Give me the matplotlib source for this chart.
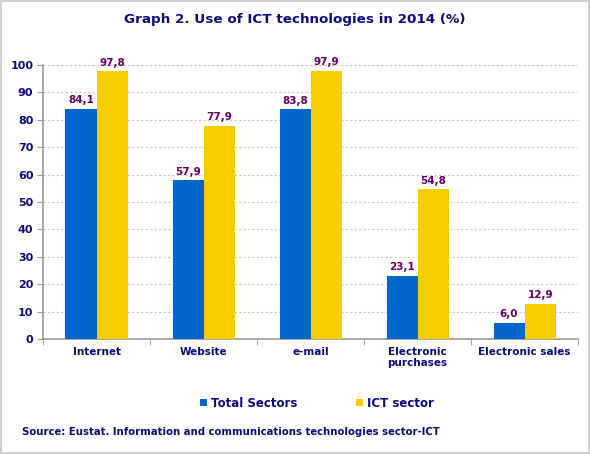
import matplotlib
matplotlib.use("Agg")
import matplotlib.pyplot as plt
import numpy as np
from matplotlib.patches import Rectangle

categories = ["Internet", "Website", "e-mail", "Electronic\npurchases", "Electronic sales"]
total_sectors = [84.1, 57.9, 83.8, 23.1, 6.0]
ict_sector = [97.8, 77.9, 97.9, 54.8, 12.9]
yticks = [0, 10, 20, 30, 40, 50, 60, 70, 80, 90, 100]

navy = "#0b0b7a"
blue = "#0066cc"
yellow = "#f7cc00"
purple = "#660066"

fig = plt.figure(figsize=(5.9, 4.54), dpi=100)
fig.patches.append(Rectangle((0.001, 0.002), 0.997, 0.996, transform=fig.transFigure,
                             fill=False, edgecolor="#d0d0d0", linewidth=1.5))
ax = fig.add_axes([0.0729, 0.2533, 0.907, 0.6035])

x = np.arange(len(categories))
w = 0.29
b1 = ax.bar(x - w / 2, total_sectors, w, color=blue, label="Total Sectors", zorder=3)
b2 = ax.bar(x + w / 2, ict_sector, w, color=yellow, label="ICT sector", zorder=3)

for bars, vals in ((b1, total_sectors), (b2, ict_sector)):
    for r, v in zip(bars, vals):
        ax.text(r.get_x() + r.get_width() / 2, v + 1.2, f"{v:.1f}".replace(".", ","),
                ha="center", va="bottom", fontsize=7.5, fontweight="bold", color=purple)

ax.set_xlim(-0.5, len(categories) - 0.5)
ax.set_ylim(0, 100)
ax.set_yticks(yticks)
ax.set_yticklabels([str(t) for t in yticks], fontsize=8, fontweight="bold", color=navy)
ax.set_xticks(x)
ax.set_xticklabels(categories, fontsize=7.5, fontweight="bold", color=navy, linespacing=1.1)
ax.set_xticks(np.arange(-0.5, len(categories)), minor=True)
ax.tick_params(axis="x", which="major", length=0, pad=6)
ax.tick_params(axis="x", which="minor", length=4, color="#999999")
ax.tick_params(axis="y", length=4, color="#999999", pad=3)
ax.yaxis.grid(True, linestyle=(0, (2, 2)), color="#c8c8c8", linewidth=0.8, zorder=0)
ax.axhline(100, color="#c8c8c8", linestyle=(0, (2, 2)), linewidth=0.8, zorder=0)
for s in ("top", "right"):
    ax.spines[s].set_visible(False)
for s in ("left", "bottom"):
    ax.spines[s].set_color("#999999")
    ax.spines[s].set_linewidth(1.2)

fig.text(0.5, 0.958, "Graph 2. Use of ICT technologies in 2014 (%)", ha="center", va="center",
         fontsize=9.7, fontweight="bold", color=navy)

leg = fig.legend(handles=[b1, b2], labels=["Total Sectors", "ICT sector"], loc="center",
                 bbox_to_anchor=(0.537, 0.112), ncol=2, frameon=False, handlelength=0.6,
                 handleheight=0.6, handletextpad=0.3, columnspacing=5.0,
                 prop={"size": 8.5, "weight": "bold"})
for t in leg.get_texts():
    t.set_color(navy)

fig.text(0.037, 0.048, "Source: Eustat. Information and communications technologies sector-ICT",
         ha="left", va="center", fontsize=7.3, fontweight="bold", color=navy)

fig.savefig("out.png", dpi=100)
